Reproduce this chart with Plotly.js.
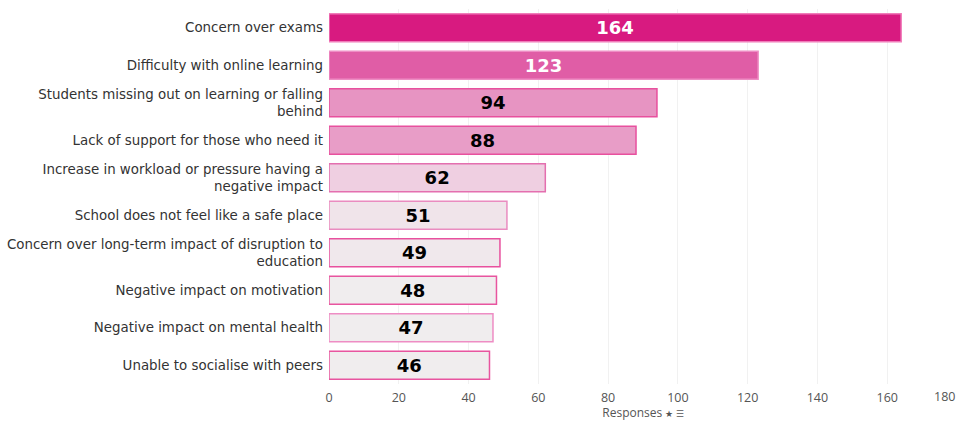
<!DOCTYPE html>
<html>
<head>
<meta charset="utf-8">
<script src="https://cdn.plot.ly/plotly-3.0.1.min.js"></script>
<style>
  html, body { margin: 0; padding: 0; background: #fff; }
  #plot { width: 957px; height: 421px; }
</style>
</head>
<body>
<div id="plot"></div>
<script>
// categories, top to bottom
let reasons = [
  "Concern over exams",
  "Difficulty with online learning",
  "Students missing out on learning or falling<br>behind",
  "Lack of support for those who need it",
  "Increase in workload or pressure having a<br>negative impact",
  "School does not feel like a safe place",
  "Concern over long-term impact of disruption to<br>education",
  "Negative impact on motivation",
  "Negative impact on mental health",
  "Unable to socialise with peers"
];

let responses = [164, 123, 94, 88, 62, 51, 49, 48, 47, 46];

let barColors = ["#D81A80", "#E05DA6", "#E794C2", "#E89DC7", "#EFCFE1",
                 "#F0E4EA", "#F0E8EC", "#F0EDEE", "#F0EDEE", "#F0EDEE"];
let edgeColors = ["#F07CB9", "#EE8DC4", "#E8509E", "#E8509E", "#E46FAF",
                  "#EA8CC0", "#E8509E", "#E8559F", "#EE8DC4", "#E8559F"];
let labelColors = ["#ffffff", "#ffffff", "#000000", "#000000", "#000000",
                   "#000000", "#000000", "#000000", "#000000", "#000000"];

let xTicks = [0, 20, 40, 60, 80, 100, 120, 140, 160];

let trace = {
  type: "bar",
  orientation: "h",
  y: reasons,
  x: responses,
  text: responses.map(String),
  textposition: "inside",
  insidetextanchor: "middle",
  textangle: 0,
  constraintext: "none",
  textfont: { family: "DejaVu Sans", size: 18, weight: "bold", color: labelColors },
  marker: { color: barColors, line: { color: edgeColors, width: 1.5 } },
  hoverinfo: "x+y"
};

let layout = {
  width: 957,
  height: 421,
  margin: { l: 329, r: 0, t: 9, b: 37 },
  paper_bgcolor: "#ffffff",
  plot_bgcolor: "#ffffff",
  bargap: 0.25,
  showlegend: false,
  font: { family: "DejaVu Sans", color: "#333333" },
  yaxis: {
    autorange: "reversed",
    ticks: "",
    ticklabelstandoff: 5,
    tickfont: { family: "DejaVu Sans", size: 13.4, color: "#333333" },
    showgrid: false,
    showline: false,
    automargin: false
  },
  xaxis: {
    range: [0, 180],
    tickvals: xTicks,
    showgrid: true,
    gridcolor: "#f1f1f1",
    zeroline: false,
    showline: false,
    ticks: "",
    ticklabelstandoff: 4,
    tickfont: { family: "Open Sans", size: 12.5, color: "#555555" },
    automargin: false,
    title: {
      text: "Responses <span style='font-size:9px'>★ ☰</span>",
      font: { family: "Open Sans", size: 12, color: "#555555" },
      standoff: 16
    }
  },
  annotations: [{
    // last tick sits on the right edge, so draw it pulled inside
    text: "180",
    xref: "x", yref: "paper",
    x: 180, y: 0,
    xanchor: "right", yanchor: "top",
    yshift: -2,
    showarrow: false,
    font: { family: "Open Sans", size: 12.5, color: "#555555" }
  }]
};

Plotly.newPlot("plot", [trace], layout, { displayModeBar: false, staticPlot: true });
</script>
</body>
</html>
